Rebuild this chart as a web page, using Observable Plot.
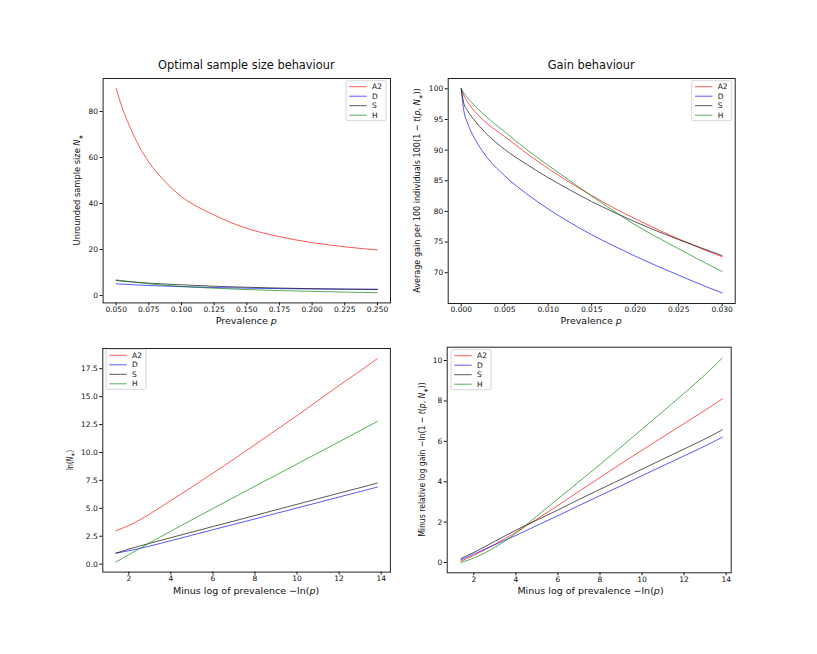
<!DOCTYPE html>
<html><head><meta charset="utf-8">
<script src="https://cdn.jsdelivr.net/npm/d3@7"></script>
<script src="https://cdn.jsdelivr.net/npm/@observablehq/plot@0.6"></script>
<style>
html,body{margin:0;padding:0;background:#fff;}
#fig{position:relative;width:817px;height:654px;overflow:hidden;background:#fff;}
#fig svg{position:absolute;left:0;top:0;overflow:visible;}
</style></head><body><div id="fig"></div>
<script>
// ---------- data ----------
const seriesNames = ["A2", "D", "S", "H"];
const seriesColors = ["red", "blue", "black", "green"];

// Panel 1: optimal sample size vs prevalence
const p1PrevalenceA2 = [0.05, 0.055, 0.06, 0.0675, 0.075, 0.0875, 0.1, 0.1125, 0.125, 0.1375, 0.15, 0.175, 0.2, 0.225, 0.25];
const p1A2 = [90, 81, 74, 65, 58, 49.5, 43, 38.5, 35, 31.8, 29.2, 25.6, 23, 21.2, 19.8];
const p1Prevalence = [0.05, 0.075, 0.1, 0.125, 0.15, 0.175, 0.2, 0.225, 0.25];
const p1D = [5.1, 4.35, 3.85, 3.5, 3.2, 3.0, 2.85, 2.75, 2.7];
const p1S = [6.5, 5.4, 4.65, 4.05, 3.6, 3.25, 2.98, 2.8, 2.65];
const p1H = [6.8, 5.1, 3.95, 3.2, 2.6, 2.15, 1.8, 1.5, 1.22];

// Panel 2: gain behaviour
const p2Prevalence = [0.000001, 0.0003, 0.0007, 0.0015, 0.0026, 0.005, 0.0075, 0.01, 0.0125, 0.015, 0.0175, 0.02, 0.0225, 0.025, 0.0275, 0.03];
const p2A2 = [100, 98.9, 97.9, 96.4, 94.8, 92.2, 89.5, 87.0, 84.7, 82.6, 80.6, 78.8, 77.1, 75.5, 74.0, 72.6];
const p2D  = [100, 96.4, 94.5, 92.0, 89.5, 85.8, 82.9, 80.4, 78.2, 76.2, 74.4, 72.7, 71.1, 69.6, 68.1, 66.7];
const p2S  = [100, 97.6, 96.5, 94.9, 93.1, 90.1, 87.7, 85.5, 83.5, 81.6, 79.9, 78.3, 76.8, 75.4, 74.1, 72.8];
const p2H  = [100, 99.3, 98.6, 97.3, 95.8, 93.0, 90.1, 87.5, 85.0, 82.5, 80.1, 77.8, 75.8, 73.9, 72.0, 70.2];

// Panels 3 & 4: against minus log prevalence
const negLogPrevalence = [1.386, 2, 3, 4, 5, 6, 7, 8, 9, 10, 11, 12, 13, 13.816];
const p3A2 = [3.0, 3.46, 4.5, 5.7, 6.9, 8.15, 9.4, 10.7, 12.0, 13.3, 14.65, 16.0, 17.3, 18.4];
const p3D  = [0.99, 1.2, 1.62, 2.1, 2.59, 3.08, 3.57, 4.05, 4.54, 5.03, 5.52, 6.01, 6.5, 6.9];
const p3S  = [0.98, 1.35, 1.87, 2.37, 2.87, 3.37, 3.86, 4.36, 4.86, 5.36, 5.86, 6.36, 6.85, 7.26];
const p3H  = [0.18, 0.85, 1.92, 2.95, 3.97, 4.98, 5.98, 6.98, 7.97, 8.97, 9.96, 10.95, 11.95, 12.78];

const p4A2 = [0.07, 0.35, 0.9, 1.5, 2.15, 2.82, 3.52, 4.21, 4.89, 5.56, 6.22, 6.88, 7.54, 8.1];
const p4D  = [0.13, 0.42, 0.88, 1.34, 1.83, 2.32, 2.82, 3.31, 3.8, 4.3, 4.79, 5.28, 5.77, 6.2];
const p4S  = [0.2, 0.5, 1.05, 1.6, 2.1, 2.6, 3.12, 3.62, 4.12, 4.62, 5.12, 5.62, 6.12, 6.57];
const p4H  = [0.0, 0.22, 0.75, 1.45, 2.3, 3.15, 4.0, 4.85, 5.72, 6.6, 7.48, 8.38, 9.3, 10.12];

// tick values
const p1XTicks = [0.05, 0.075, 0.1, 0.125, 0.15, 0.175, 0.2, 0.225, 0.25];
const p1YTicks = [0, 20, 40, 60, 80];
const p2XTicks = [0, 0.005, 0.01, 0.015, 0.02, 0.025, 0.03];
const p2YTicks = [70, 75, 80, 85, 90, 95, 100];
const p3XTicks = [2, 4, 6, 8, 10, 12, 14];
const p3YTicks = [0, 2.5, 5, 7.5, 10, 12.5, 15, 17.5];
const p4XTicks = [2, 4, 6, 8, 10, 12, 14];
const p4YTicks = [0, 2, 4, 6, 8, 10];

// ---------- build ----------
const W = 817, H = 654;
const rows = (xs, ys, s) => xs.map((x, i) => ({x, y: ys[i], s}));

const data1 = [...rows(p1PrevalenceA2, p1A2, "A2"), ...rows(p1Prevalence, p1D, "D"), ...rows(p1Prevalence, p1S, "S"), ...rows(p1Prevalence, p1H, "H")];
const data2 = [...rows(p2Prevalence, p2A2, "A2"), ...rows(p2Prevalence, p2D, "D"), ...rows(p2Prevalence, p2S, "S"), ...rows(p2Prevalence, p2H, "H")];
const data3 = [...rows(negLogPrevalence, p3A2, "A2"), ...rows(negLogPrevalence, p3D, "D"), ...rows(negLogPrevalence, p3S, "S"), ...rows(negLogPrevalence, p3H, "H")];
const data4 = [...rows(negLogPrevalence, p4A2, "A2"), ...rows(negLogPrevalence, p4D, "D"), ...rows(negLogPrevalence, p4S, "S"), ...rows(negLogPrevalence, p4H, "H")];

function panel(frame, xDomain, yDomain, xTicks, yTicks, xFmt, yFmt, data) {
  const [l, t, r, b] = frame;
  return Plot.plot({
    width: W, height: H,
    marginLeft: l, marginTop: t, marginRight: W - r, marginBottom: H - b,
    style: {fontFamily: "DejaVu Sans", fontSize: "7.5px", color: "#111", background: "transparent", overflow: "visible"},
    x: {domain: xDomain, ticks: xTicks, tickFormat: xFmt, tickSize: 3, tickPadding: 0.5, label: null},
    y: {domain: yDomain, ticks: yTicks, tickFormat: yFmt, tickSize: 3, tickPadding: 2, label: null},
    color: {domain: seriesNames, range: seriesColors},
    marks: [
      Plot.line(data, {x: "x", y: "y", z: "s", stroke: "s", strokeOpacity: 0.65, strokeWidth: 1, curve: "monotone-x"}),
      Plot.frame({stroke: "#222", strokeWidth: 1})
    ]
  });
}

const fig = document.getElementById("fig");
fig.append(panel([102.6, 78, 390, 302.4], [0.04, 0.26], [-3.2, 94.35], p1XTicks, p1YTicks, d3.format(".3f"), d3.format("d"), data1));
fig.append(panel([447.7, 78, 734.7, 303], [-0.0015, 0.0315], [64.98, 101.68], p2XTicks, p2YTicks, d3.format(".3f"), d3.format("d"), data2));
fig.append(panel([102.3, 348, 389.9, 571.6], [0.764, 14.44], [-0.71, 19.31], p3XTicks, p3YTicks, d3.format("d"), d3.format(".1f"), data3));
fig.append(panel([446.7, 346.7, 730.7, 572.3], [0.735, 14.24], [-0.51, 10.66], p4XTicks, p4YTicks, d3.format("d"), d3.format("d"), data4));

// ---------- overlay text & legends ----------
const ov = d3.select(fig).append("svg").attr("width", W).attr("height", H)
  .style("font-family", "DejaVu Sans").style("fill", "#111");

function addText(x, y, parts, size, rotate, target) {
  const t = ov.append("text").attr("text-anchor", "middle").attr("dominant-baseline", "central")
    .style("font-size", size + "px");
  for (const p of parts) {
    const o = typeof p === "string" ? {t: p} : p;
    const sp = t.append("tspan").text(o.t);
    if (o.i) sp.style("font-style", "italic");
    if (o.sub) sp.style("font-size", (size * 0.7) + "px").attr("dy", size * 0.3);
    if (o.up) sp.attr("dy", -size * 0.3);
  }
  let tr = `translate(${x},${y})`;
  if (rotate) {
    let k = 1;
    if (target) { const len = t.node().getComputedTextLength(); if (len > 0) k = target / len; }
    tr += ` rotate(-90) scale(${k},1)`;
  }
  t.attr("transform", tr);
  return t;
}

// titles
addText(246.3, 65, ["Optimal sample size behaviour"], 11.4);
addText(591.2, 65, ["Gain behaviour"], 11.4);
// x labels
addText(246.3, 319.5, ["Prevalence ", {t: "p", i: true}], 9.5);
addText(591.2, 319.5, ["Prevalence ", {t: "p", i: true}], 9.5);
addText(246.1, 589.5, ["Minus log of prevalence \u2212ln(", {t: "p", i: true}, ")"], 9.5);
addText(590.5, 589.5, ["Minus log of prevalence \u2212ln(", {t: "p", i: true}, ")"], 9.5);
// y labels
addText(77, 190, ["Unrounded sample size ", {t: "N", i: true}, {t: "\u2217", sub: true}], 9.5, true, 111);
addText(417, 190.5, ["Average gain per 100 individuals 100(1 \u2212 ", {t: "t", i: true}, "(", {t: "p", i: true}, ", ", {t: "N", i: true}, {t: "\u2217", sub: true}, {t: "))", up: true}], 9.5, true, 205);
addText(70, 460, ["ln(", {t: "N", i: true}, {t: "\u2217", sub: true}, {t: ")", up: true}], 9.5, true, 20);
addText(421.7, 459.5, ["Minus relative log gain \u2212ln(1 \u2212 ", {t: "t", i: true}, "(", {t: "p", i: true}, ", ", {t: "N", i: true}, {t: "\u2217", sub: true}, {t: "))", up: true}], 9.5, true, 155);

// legends
function legend(x0, y0) {
  ov.append("rect").attr("x", x0).attr("y", y0).attr("width", 40).attr("height", 40)
    .attr("rx", 1.5).attr("fill", "white").attr("fill-opacity", 0.85).attr("stroke", "#ccc").attr("stroke-width", 0.8);
  const rowsY = [6, 15.5, 25, 34.5];
  seriesNames.forEach((name, i) => {
    const y = y0 + rowsY[i];
    ov.append("line").attr("x1", x0 + 3.3).attr("x2", x0 + 20.7).attr("y1", y).attr("y2", y)
      .attr("stroke", seriesColors[i]).attr("stroke-opacity", 0.65).attr("stroke-width", 1);
    ov.append("text").attr("x", x0 + 26).attr("y", y).attr("dominant-baseline", "central")
      .style("font-size", "7.5px").text(name);
  });
}
legend(346, 80.7);
legend(691.7, 80.7);
legend(106, 349.3);
legend(451, 349.7);
</script></body></html>
